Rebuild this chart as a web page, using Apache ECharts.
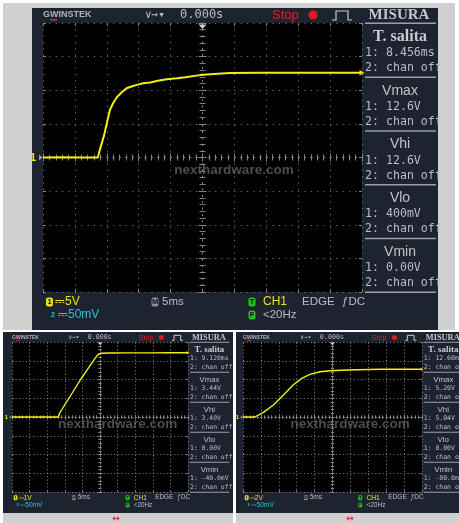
<!DOCTYPE html>
<html>
<head>
<meta charset="utf-8">
<script src="https://cdn.jsdelivr.net/npm/echarts@6/dist/echarts.min.js"></script>
<style>
html,body{margin:0;padding:0;background:#fff;}
#chart{width:459px;height:523px;}
</style>
</head>
<body>
<div id="chart"></div>
<script>
// Three rise-time captures, 5 ms/div, time in ms, amplitude in volts.

// Capture A: 5 V/div
const timeA = [-25, -22, -19, -16.4, -16.1, -15.4, -15.0, -14.5, -14.0, -13.4, -12.6, -11.9, -11.0, -10.3, -9.3, -8.2, -7.0, -5.6, -4.0, -2.7, -0.4, 1.8, 4.3, 9.0, 14, 19, 25];
const voltA = [0, 0.05, 0, 0, 1.1, 3.4, 5.1, 7.1, 8.1, 9.0, 9.75, 10.3, 10.6, 10.8, 11.05, 11.15, 11.4, 11.65, 11.8, 11.95, 12.25, 12.4, 12.55, 12.6, 12.6, 12.62, 12.6];

// Capture B: 1 V/div
const timeB = [-25, -11.8, -11.5, -9.5, -7.5, -5.5, -3.5, -1.5, -0.6, 0.3, 3, 8, 14, 20, 25];
const voltB = [0, 0, 0.2, 0.8, 1.4, 2.0, 2.55, 3.1, 3.33, 3.4, 3.41, 3.42, 3.42, 3.43, 3.43];

// Capture C: 2 V/div
const timeC = [-25, -21.7, -19.3, -16.5, -13.7, -11.0, -8.6, -6.3, -3.5, -0.7, 4.0, 13.3, 25];
const voltC = [0, 0, 0.5, 1.28, 2.35, 3.41, 4.12, 4.55, 4.83, 4.94, 5.01, 5.09, 5.09];

// Measurement readouts
const measureNames = ['T. salita', 'Vmax', 'Vhi', 'Vlo', 'Vmin'];
const readoutsA = ['8.456ms', '12.6V', '12.6V', '400mV', '0.00V'];
const readoutsB = ['9.120ms', '3.44V', '3.40V', '0.00V', '-40.0mV'];
const readoutsC = ['12.60ms', '5.20V', '5.04V', '0.00V', '-80.0mV'];

// Vertical scale per capture (V/div)
const voltsPerDiv = [5, 1, 2];
const scaleLabels = ['5V', '1V', '2V'];

const captures = [
  { time: timeA, volt: voltA, readouts: readoutsA },
  { time: timeB, volt: voltB, readouts: readoutsB },
  { time: timeC, volt: voltC, readouts: readoutsC }
];

// Screen geometry: plot rect, scale, dark bezel
const panels = [
  { plot: [43, 23, 319, 269], s: 1, sy: 1, dark: [32, 8, 406, 322], lw: 2 },
  { plot: [12, 342, 176, 150], s: 0.553, sy: 0.558, dark: [3, 332, 230, 181], lw: 1.4 },
  { plot: [243, 342, 179, 150], s: 0.561, sy: 0.558, dark: [236, 332, 223, 181], lw: 1.4 }
];

const BEZEL = '#1e2330';
const GRAY = '#b9bdc5';
const DOT = '#858585';
const YELLOW = '#f0f012';
const MONO = '"DejaVu Sans Mono", monospace';
const SANS = '"Liberation Sans", sans-serif';
const SERIF = '"Liberation Serif", serif';

const grids = [], xAxes = [], yAxes = [], series = [], graphics = [];

function font(w, size, fam) { return w + ' ' + size.toFixed(1) + 'px ' + fam; }

// page backdrop
graphics.push({ type: 'rect', z: -20, shape: { x: 3, y: 3, width: 452, height: 327 }, style: { fill: '#d0d0d0' } });
graphics.push({ type: 'rect', z: -20, shape: { x: 3, y: 332, width: 230, height: 191 }, style: { fill: '#d0d0d0' } });
graphics.push({ type: 'rect', z: -20, shape: { x: 236, y: 332, width: 223, height: 191 }, style: { fill: '#d0d0d0' } });
[116, 350].forEach(function (cx) {
  graphics.push({ type: 'text', z: 100, x: cx, y: 519, style: { text: '↔', fill: '#e03030', font: font('bold', 9, '"DejaVu Sans"'), textAlign: 'center', textVerticalAlign: 'middle', align: 'center', verticalAlign: 'middle' } });
});

panels.forEach(function (p, g) {
  const c = captures[g];
  const vd = voltsPerDiv[g];
  const s = p.s;
  const dotGap = 6.38 * s - 1;
  const X = function (rx) { return p.plot[0] + rx * s; };
  const Y = function (ry) { return p.plot[1] + ry * p.sy; };

  grids.push({ left: p.plot[0], top: p.plot[1], width: p.plot[2], height: p.plot[3], show: true, backgroundColor: '#000', borderWidth: 0, containLabel: false });

  const xBase = { gridIndex: g, type: 'value', min: -25, max: 25, interval: 5, axisLabel: { show: false }, splitLine: { show: false }, axisTick: { show: false }, axisLine: { show: false } };
  const yBase = { gridIndex: g, type: 'value', min: -4 * vd, max: 4 * vd, interval: vd, axisLabel: { show: false }, splitLine: { show: false }, axisTick: { show: false }, axisLine: { show: false } };
  const dotted = { color: DOT, width: 1, type: [1, dotGap] };

  const xi = xAxes.length, yi = yAxes.length;
  // graticule
  xAxes.push(Object.assign({}, xBase, { position: 'bottom', splitLine: { show: true, showMinLine: true, showMaxLine: true, lineStyle: dotted } }));
  yAxes.push(Object.assign({}, yBase, { position: 'left', splitLine: { show: true, showMinLine: true, showMaxLine: true, lineStyle: dotted } }));
  // centre cross with minor ticks on both sides
  [false, true].forEach(function (inside) {
    xAxes.push(Object.assign({}, xBase, {
      position: 'bottom',
      axisLine: { show: true, onZero: true, lineStyle: { color: DOT, width: 1, type: [1, dotGap] } },
      axisTick: { show: true, inside: inside, length: 4 * s, lineStyle: { color: DOT } },
      minorTick: { show: true, splitNumber: 5, length: 3 * s, lineStyle: { color: DOT } }
    }));
    yAxes.push(Object.assign({}, yBase, {
      position: 'left',
      axisLine: { show: true, onZero: true, lineStyle: { color: DOT, width: 1, type: [1, dotGap] } },
      axisTick: { show: true, inside: inside, length: 4 * s, lineStyle: { color: DOT } },
      minorTick: { show: true, splitNumber: 5, length: 3 * s, lineStyle: { color: DOT } }
    }));
  });
  // edge ticks
  ['top', 'bottom'].forEach(function (pos) {
    xAxes.push(Object.assign({}, xBase, { position: pos, axisLine: { show: false, onZero: false }, axisTick: { show: true, inside: true, length: 3 * s, lineStyle: { color: DOT } } }));
  });
  ['left', 'right'].forEach(function (pos) {
    yAxes.push(Object.assign({}, yBase, { position: pos, axisLine: { show: false, onZero: false }, axisTick: { show: true, inside: true, length: 3 * s, lineStyle: { color: DOT } } }));
  });

  const pts = c.time.map(function (t, i) { return [t, c.volt[i]]; });
  series.push({
    type: 'line', xAxisIndex: xi, yAxisIndex: yi, data: pts, showSymbol: false, symbol: 'none',
    lineStyle: { color: YELLOW, width: p.lw }, z: 10, silent: true,
    markPoint: { symbol: 'triangle', symbolSize: [6 * s, 5 * s], symbolRotate: -90, itemStyle: { color: '#e8b400' }, label: { show: false }, data: [{ coord: pts[pts.length - 1] }] }
  });

  // bezel
  graphics.push({ type: 'rect', z: -10, shape: { x: p.dark[0], y: p.dark[1], width: p.dark[2], height: p.dark[3] }, style: { fill: BEZEL } });

  function txt(rx, ry, text, opt, align) {
    graphics.push({ type: 'text', z: 100, x: X(rx), y: Y(ry), style: Object.assign({ text: text, fill: GRAY, textAlign: align || 'left', align: align || 'left', textVerticalAlign: 'middle', verticalAlign: 'middle' }, opt) });
  }
  function box(rx, ry, letter, bg) {
    graphics.push({ type: 'rect', z: 99, shape: { x: X(rx - 3.5), y: Y(ry - 4.5), width: 7 * s, height: 9 * p.sy, r: 2 * s }, style: { fill: bg } });
    txt(rx, ry + 0.3, letter, { fill: '#111', font: font('bold', 7.5 * s, SANS) }, 'center');
  }

  // header bar
  txt(0, -8, 'GWINSTEK', { fill: '#aeb3bb', font: font('bold', 9 * s, SANS) });
  graphics.push({ type: 'rect', z: 100, shape: { x: X(7), y: Y(-4), width: 7 * s, height: Math.max(1, 1.5 * s) }, style: { fill: '#d03030' } });
  txt(102, -8, '∨→▾', { font: font('normal', 11 * s, MONO) });
  txt(137, -8, '0.000s', { font: font('normal', 12 * s, MONO) });
  txt(229, -8, 'Stop', { fill: '#e02020', font: font('normal', 13 * s, SANS) });
  graphics.push({ type: 'circle', z: 100, shape: { cx: X(270), cy: Y(-8), r: 4.5 * s }, style: { fill: '#e81818' } });
  graphics.push({ type: 'polyline', z: 100, shape: { points: [[X(289), Y(-3)], [X(293), Y(-3)], [X(293), Y(-12)], [X(305), Y(-12)], [X(305), Y(-3)], [X(309), Y(-3)]] }, style: { stroke: '#c8ccd2', lineWidth: Math.max(1, 1.2 * s), fill: null } });
  txt(356, -8, 'MISURA', { fill: '#c3c7cd', font: font('bold', 15 * s, SERIF) }, 'center');
  graphics.push({ type: 'rect', z: 100, shape: { x: X(322), y: Y(-0.5), width: 71 * s, height: Math.max(1, 1.5 * s) }, style: { fill: '#9aa0a8' } });

  // measurement column
  measureNames.forEach(function (name, i) {
    const base = 14 + i * 53.75;
    if (i === 0) {
      txt(357, base, name, { fill: '#c8ccd2', font: font('bold', 16 * s, SERIF) }, 'center');
    } else {
      txt(357, base, name, { fill: '#c0c4ca', font: font('normal', 14 * s, SANS) }, 'center');
    }
    txt(322, base + 16, '1: ' + c.readouts[i], { font: font('normal', 11.6 * s, MONO) });
    txt(322, base + 31, '2: chan off', { font: font('normal', 11.6 * s, MONO) });
    graphics.push({ type: 'rect', z: 100, shape: { x: X(322), y: Y(base + 39.5), width: 71 * s, height: Math.max(1, 1.5 * s) }, style: { fill: '#9aa0a8' } });
  });

  // status bar
  box(6.5, 279, '1', '#e8e020');
  txt(12, 279, '⎓' + scaleLabels[g], { fill: '#e8e020', font: font('normal', 12 * s, SANS) });
  txt(10, 292, '2', { fill: '#30c0d0', font: font('bold', 7 * s, SANS) }, 'center');
  txt(15, 292, '⎓50mV', { fill: '#30c0d0', font: font('normal', 12 * s, SANS) });
  box(112, 279, 'M', '#8a8f98');
  txt(119, 279, '5ms', { font: font('normal', 11.5 * s, SANS) });
  box(209, 279, 'T', '#20c020');
  txt(220, 279, 'CH1', { fill: '#e8e020', font: font('normal', 12 * s, SANS) });
  txt(259, 279, 'EDGE', { font: font('normal', 11.5 * s, SANS) });
  txt(299, 279, 'ƒDC', { font: font('normal', 11.5 * s, SANS) });
  box(209, 292, 'F', '#20c020');
  txt(220, 292, '<20Hz', { font: font('normal', 11.5 * s, SANS) });

  // ground marker and trigger position
  txt(-7, 134.5, '1', { fill: '#f0e820', font: font('bold', 11 * s, SANS) }, 'right');
  graphics.push({ type: 'polygon', z: 100, shape: { points: [[X(-4), Y(131.5)], [X(-0.5), Y(134.5)], [X(-4), Y(137.5)]] }, style: { fill: '#9a9a9a' } });
  graphics.push({ type: 'polygon', z: 100, shape: { points: [[X(155.5), Y(1.5)], [X(163.5), Y(1.5)], [X(159.5), Y(6)]] }, style: { fill: '#d0d0d0' } });

  // site watermark (fixed size on every capture)
  graphics.push({ type: 'text', z: 50, x: X(191), y: Y(147), style: { text: 'nexthardware.com', fill: 'rgba(125,125,125,0.62)', font: font('bold', 13.5, SANS), textAlign: 'center', align: 'center', textVerticalAlign: 'middle', verticalAlign: 'middle' } });
});

const chart = echarts.init(document.getElementById('chart'), null, { renderer: 'canvas' });
chart.setOption({
  backgroundColor: '#ffffff',
  animation: false,
  grid: grids,
  xAxis: xAxes,
  yAxis: yAxes,
  series: series,
  graphic: { elements: graphics }
});
</script>
</body>
</html>
